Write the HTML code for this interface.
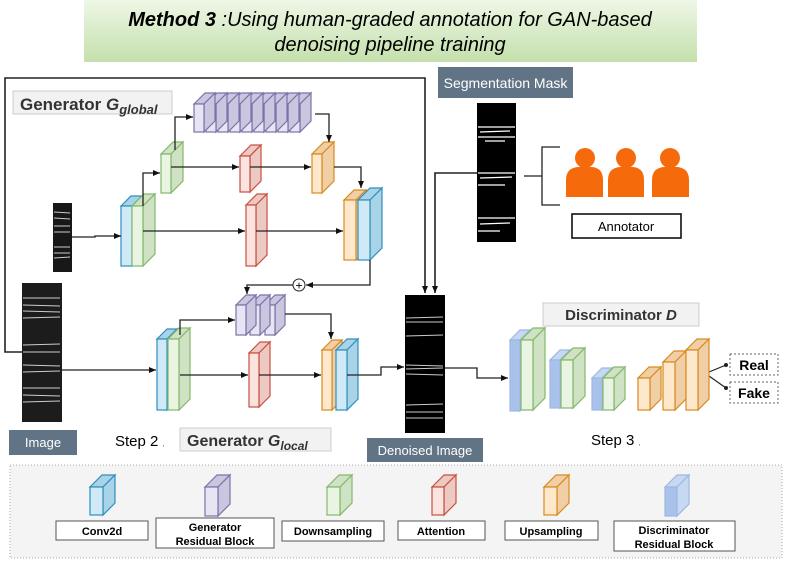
<!DOCTYPE html>
<html><head><meta charset="utf-8"><style>
body{margin:0;background:#fff;}
svg{display:block;font-family:"Liberation Sans",sans-serif;}
</style></head><body>
<svg id="s" width="789" height="564" viewBox="0 0 789 564" xmlns="http://www.w3.org/2000/svg">
<defs>
<linearGradient id="tg" x1="0" y1="0" x2="0" y2="1"><stop offset="0" stop-color="#eef7e6"/><stop offset="1" stop-color="#c4e0ac"/></linearGradient>
<marker id="a" markerWidth="8" markerHeight="8" refX="7" refY="4" orient="auto" markerUnits="userSpaceOnUse"><path d="M0,1 L7,4 L0,7 Z" fill="#111"/></marker>
</defs>
<rect x="84" y="0" width="613" height="62" fill="url(#tg)"/>
<text x="390" y="26" text-anchor="middle" font-family="'Liberation Sans Narrow','Liberation Sans',sans-serif" font-size="20" font-style="italic"><tspan font-weight="bold">Method 3</tspan> :Using human-graded annotation for GAN-based</text>
<text x="390" y="51" text-anchor="middle" font-family="'Liberation Sans Narrow','Liberation Sans',sans-serif" font-size="20" font-style="italic">denoising pipeline training</text>

<g fill="none" stroke="#222" stroke-width="1.6">
<polyline points="22,352 5,352 5,78 425,78 425,293" marker-end="url(#a)"/>
<polyline points="477,173 435,173 435,293" marker-end="url(#a)"/>
</g>
<rect x="13" y="91" width="159" height="23" fill="#f2f2f2" stroke="#ccc"/>
<text x="20" y="110" font-size="17" font-weight="bold" fill="#333">Generator <tspan font-style="italic">G</tspan><tspan font-style="italic" font-size="13" dy="4">global</tspan></text>

<rect x="438" y="67" width="135" height="31" fill="#617486"/>
<text x="505.5" y="88" font-size="14" fill="#fff" text-anchor="middle">Segmentation Mask</text>
<rect x="477" y="103" width="39" height="139" fill="#000"/>
<g stroke="#fff" stroke-width="1.2">
<line x1="478" y1="127" x2="515" y2="127"/><line x1="480" y1="132" x2="510" y2="131"/><line x1="478" y1="137" x2="515" y2="137"/><line x1="485" y1="141" x2="505" y2="141"/>
<line x1="478" y1="173" x2="515" y2="173"/><line x1="480" y1="178" x2="512" y2="177"/><line x1="478" y1="185" x2="505" y2="185"/>
<line x1="478" y1="218" x2="515" y2="218"/><line x1="480" y1="224" x2="510" y2="223"/><line x1="478" y1="231" x2="500" y2="231"/>
</g>
<polyline points="524,176 542,176" stroke="#222" stroke-width="1.3" fill="none"/>
<polyline points="560,147 542,147 542,205 560,205" stroke="#222" stroke-width="1.3" fill="none"/>
<g fill="#f56a0a">
<circle cx="585" cy="158" r="10"/><path d="M566,197 L566,180 Q566,168 578,167 L592,167 Q603,168 603,180 L603,197Z"/>
<circle cx="626" cy="158" r="10"/><path d="M608,197 L608,180 Q608,168 620,167 L633,167 Q644,168 644,180 L644,197Z"/>
<circle cx="670" cy="158" r="10"/><path d="M652,197 L652,180 Q652,168 664,167 L677,167 Q689,168 689,180 L689,197Z"/>
</g>
<rect x="572" y="214" width="109" height="24" fill="#fff" stroke="#111" stroke-width="1.6"/>
<text x="626" y="231" font-size="13" text-anchor="middle">Annotator</text>

<rect x="53" y="203" width="19" height="69" fill="#181818"/>
<rect x="22" y="283" width="40" height="139" fill="#1c1c1c"/>
<rect x="405" y="295" width="40" height="138" fill="#000"/>
<g id="stripes" stroke="#ccc" stroke-width="1"></g>

<rect x="9" y="430" width="68" height="25" fill="#617486"/>
<text x="43" y="447" font-size="13" fill="#fff" text-anchor="middle">Image</text>
<text x="115" y="446" font-size="15">Step 2 <tspan font-size="6">,</tspan></text>
<rect x="180" y="428" width="151" height="23" fill="#f2f2f2" stroke="#ccc"/>
<text x="187" y="446" font-size="16" font-weight="bold" fill="#333">Generator <tspan font-style="italic">G</tspan><tspan font-style="italic" font-size="12" dy="4">local</tspan></text>
<rect x="367" y="438" width="116" height="24" fill="#617486"/>
<text x="425" y="455" font-size="13" fill="#fff" text-anchor="middle">Denoised Image</text>

<rect x="543" y="303" width="156" height="23" fill="#f2f2f2" stroke="#ccc"/>
<text x="621" y="320" font-size="15" font-weight="bold" fill="#333" text-anchor="middle">Discriminator <tspan font-style="italic">D</tspan></text>
<text x="591" y="445" font-size="15">Step 3 <tspan font-size="6">,</tspan></text>
<rect x="730" y="354" width="48" height="21" fill="#fff" stroke="#666" stroke-dasharray="2,2"/>
<text x="754" y="370" font-size="14" font-weight="bold" text-anchor="middle">Real</text>
<rect x="730" y="382" width="48" height="21" fill="#fff" stroke="#666" stroke-dasharray="2,2"/>
<text x="754" y="398" font-size="14" font-weight="bold" text-anchor="middle">Fake</text>
<g stroke="#222" stroke-width="1.2"><line x1="709" y1="372" x2="726" y2="365"/><line x1="709" y1="376" x2="726" y2="388"/></g>
<circle cx="726" cy="365" r="2" fill="#222"/><circle cx="726" cy="388" r="2" fill="#222"/>

<rect x="10" y="465" width="772" height="93" fill="#f4f4f4" stroke="#aaa" stroke-dasharray="1,2"/>
<g font-size="11" font-weight="bold" text-anchor="middle" font-family="'Liberation Sans Narrow','Liberation Sans',sans-serif">
<rect x="56" y="521" width="92" height="19" fill="#fff" stroke="#555"/><text x="102" y="535">Conv2d</text>
<rect x="156" y="518" width="118" height="30" fill="#fff" stroke="#555"/><text x="215" y="531">Generator</text><text x="215" y="545">Residual Block</text>
<rect x="282" y="521" width="102" height="20" fill="#fff" stroke="#555"/><text x="333" y="535">Downsampling</text>
<rect x="398" y="521" width="87" height="19" fill="#fff" stroke="#555"/><text x="441" y="535">Attention</text>
<rect x="505" y="521" width="93" height="19" fill="#fff" stroke="#555"/><text x="551" y="535">Upsampling</text>
<rect x="614" y="521" width="121" height="30" fill="#fff" stroke="#555"/><text x="674" y="534">Discriminator</text><text x="674" y="548">Residual Block</text>
</g>
<g id="cubes"></g>
<g id="arrows" fill="none" stroke="#222" stroke-width="1.3"></g>
<circle cx="299" cy="285" r="6" fill="#fff" stroke="#222"/>
<text x="299" y="289.5" font-size="12" text-anchor="middle">+</text>
</svg>
<script>
var NS="http://www.w3.org/2000/svg";
var C={b:["#2e8fbf","#cfeaf6","#a9d4e8"],g:["#84b86c","#eaf4e2","#cfe2c3"],r:["#c9503f","#fbe3e0","#edc9c4"],o:["#d98a1e","#fde8cc","#f0cfa6"],p:["#7d72a8","#e7e4f4","#cbc6e0"],d:["none","#a8c2ec","#c7d8f2"]};
var cg=document.getElementById("cubes");
function el(t,a,p){var e=document.createElementNS(NS,t);for(var k in a)e.setAttribute(k,a[k]);(p||cg).appendChild(e);return e;}
function cube(t,x,y,w,h,d){var c=C[t];var st=c[0]=="none"?"#9fb8e0":c[0];
el("polygon",{points:[x,y,x+d,y-d,x+w+d,y-d,x+w,y].join(","),fill:c[2],stroke:st,"stroke-width":1.2});
el("polygon",{points:[x+w,y,x+w+d,y-d,x+w+d,y+h-d,x+w,y+h].join(","),fill:c[2],stroke:st,"stroke-width":1.2});
el("rect",{x:x,y:y,width:w,height:h,fill:c[1],stroke:st,"stroke-width":1.2});}
// global
for(var i=8;i>=0;i--)cube("p",194+i*12,104,10,28,11);
cube("g",161,154,10,39,12);cube("r",240,156,10,36,11);cube("o",312,154,10,39,12);
cube("b",121,206,11,60,10);cube("g",132,206,11,60,12);
cube("r",246,205,10,61,11);
cube("o",344,200,12,60,10);cube("b",358,200,12,60,12);
// local
cube("p",265,305,10,30,10);cube("p",250,305,10,30,10);cube("p",236,305,10,30,10);
cube("b",157,339,10,71,10);cube("g",168,339,11,71,11);
cube("r",249,353,10,54,11);
cube("o",322,350,10,60,10);cube("b",336,350,11,60,11);
// disc
cube("d",510,340,10,71,10);cube("g",521,340,12,70,12);
cube("d",550,360,10,48,10);cube("g",561,360,12,48,12);
cube("d",592,378,10,32,10);cube("g",603,378,11,32,11);
cube("o",638,378,12,32,11);cube("o",663,362,12,48,11);cube("o",686,350,12,60,11);
// legend
cube("b",90,487,13,28,12);
cube("p",205,487,13,29,12);
cube("g",327,487,13,28,12);
cube("r",432,487,12,28,12);
cube("o",544,487,13,28,12);
cube("d",665,487,12,29,12);
var ag=document.getElementById("arrows");
function ar(pts){el("polyline",{points:pts,"marker-end":"url(#a)"},ag);}
ar("72,237 95,237 95,236 121,236");
ar("143,206 143,173 160,173");
ar("175,150 175,117 193,117");
ar("171,167 239,167");ar("250,167 311,167");
ar("315,114 329,114 329,142");
ar("334,167 361,167 361,188");
ar("143,231 245,231");ar("256,231 343,231");
ar("370,260 370,285 306,285");
ar("293,285 247,285 247,294");
ar("62,370 156,370");
ar("180,335 180,320 235,320");
ar("180,375 248,375");ar("259,375 321,375");
ar("285,314 331,314 331,339");
ar("347,375 381,375 381,367 404,367");
ar("445,368 477,368 477,378 508,378");
var sg=document.getElementById("stripes");
[[203,272,53,72,[212,218,226,232,247,253,258]],[283,422,22,62,[298,305,311,318,345,352,365,372,388,395,402]],[295,433,405,445,[318,322,336,365,369,374,405,412,418]]].forEach(function(s){s[4].forEach(function(y){el("line",{x1:s[2]+1,y1:y,x2:s[3]-2,y2:y+(y%3-1)},sg);});});
</script>
</body></html>
